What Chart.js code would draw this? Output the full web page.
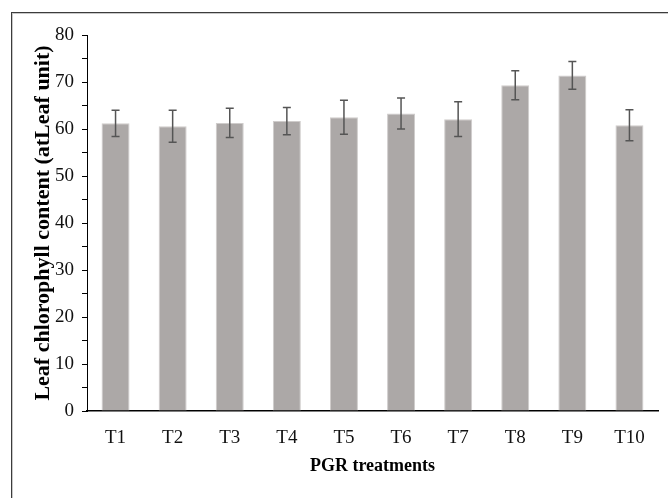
<!DOCTYPE html>
<html>
<head>
<meta charset="utf-8">
<script src="https://cdn.jsdelivr.net/npm/chart.js@4"></script>
<style>
  html, body { margin: 0; padding: 0; background: #fff; }
  #wrap { position: relative; width: 668px; height: 498px; overflow: hidden; }
  #frame { position: absolute; left: 11px; top: 12px; width: 700px; height: 520px;
           border-top: 1px solid #3c3c3c; border-left: 1px solid #3c3c3c;
           box-shadow: inset 1px 1px 0 #c8c8c8; }
  canvas { position: absolute; left: 0; top: 0; }
</style>
</head>
<body>
<div id="wrap">
  <div id="frame"></div>
  <canvas id="grafica" width="668" height="498"></canvas>
</div>
<script>
// Valores
var categorias = ['T1', 'T2', 'T3', 'T4', 'T5', 'T6', 'T7', 'T8', 'T9', 'T10'];
var clorofila = [61.2, 60.6, 61.3, 61.7, 62.5, 63.3, 62.1, 69.3, 71.4, 60.8];
var errores = [2.8, 3.4, 3.1, 2.9, 3.6, 3.3, 3.7, 3.1, 2.95, 3.3];

var fuente = 'Liberation Serif, Times New Roman, serif';

// Dibuja las barras de error sobre cada barra
var barrasError = {
    id: 'barrasError',
    afterDatasetsDraw: function (chart) {
        var ctx = chart.ctx;
        var meta = chart.getDatasetMeta(0);
        var y = chart.scales.y;
        ctx.save();
        ctx.strokeStyle = '#555555';
        ctx.lineWidth = 1.5;
        for (var i = 0; i < meta.data.length; i++) {
            var x = meta.data[i].x;
            var alto = y.getPixelForValue(clorofila[i] + errores[i]);
            var bajo = y.getPixelForValue(clorofila[i] - errores[i]);
            ctx.beginPath();
            ctx.moveTo(x, alto);
            ctx.lineTo(x, bajo);
            ctx.moveTo(x - 4, alto);
            ctx.lineTo(x + 4, alto);
            ctx.moveTo(x - 4, bajo);
            ctx.lineTo(x + 4, bajo);
            ctx.stroke();
        }
        ctx.restore();
    }
};

var context = document.getElementById('grafica').getContext('2d');
var chart = new Chart(context, {
    type: 'bar',
    data: {
        labels: categorias,
        datasets: [{
            data: clorofila,
            backgroundColor: '#aca8a7',
            borderColor: '#cfcccb',
            borderWidth: 1,
            barPercentage: 0.49,
            categoryPercentage: 1
        }]
    },
    options: {
        responsive: false,
        animation: false,
        layout: { padding: { top: 35, right: 10, left: 0, bottom: 0 } },
        plugins: { legend: { display: false }, tooltip: { enabled: false } },
        scales: {
            x: {
                grid: { display: false, drawTicks: false },
                border: { display: true, color: '#000', width: 1.5 },
                ticks: { color: '#111', padding: 16, font: { family: fuente, size: 19 } },
                title: {
                    display: true, text: 'PGR treatments', color: '#000',
                    font: { family: fuente, size: 18, weight: 'bold' },
                    padding: { top: 0, bottom: 21 }
                },
                afterFit: function (scale) { scale.height = 87; }
            },
            y: {
                min: 0, max: 80,
                grid: { display: true, drawOnChartArea: false, drawTicks: true, tickLength: 5, color: '#000' },
                border: { display: true, color: '#000', width: 1 },
                ticks: {
                    stepSize: 5, autoSkip: false, padding: 8, color: '#111',
                    font: { family: fuente, size: 19 },
                    callback: function (v) { return v % 10 === 0 ? v : ''; }
                },
                title: {
                    display: true, text: 'Leaf chlorophyll content (atLeaf unit)', color: '#000',
                    font: { family: fuente, size: 22, weight: 'bold' },
                    padding: { top: 30, bottom: 0 }
                },
                afterFit: function (scale) { scale.width = 87; }
            }
        }
    },
    plugins: [barrasError]
});
</script>
</body>
</html>
